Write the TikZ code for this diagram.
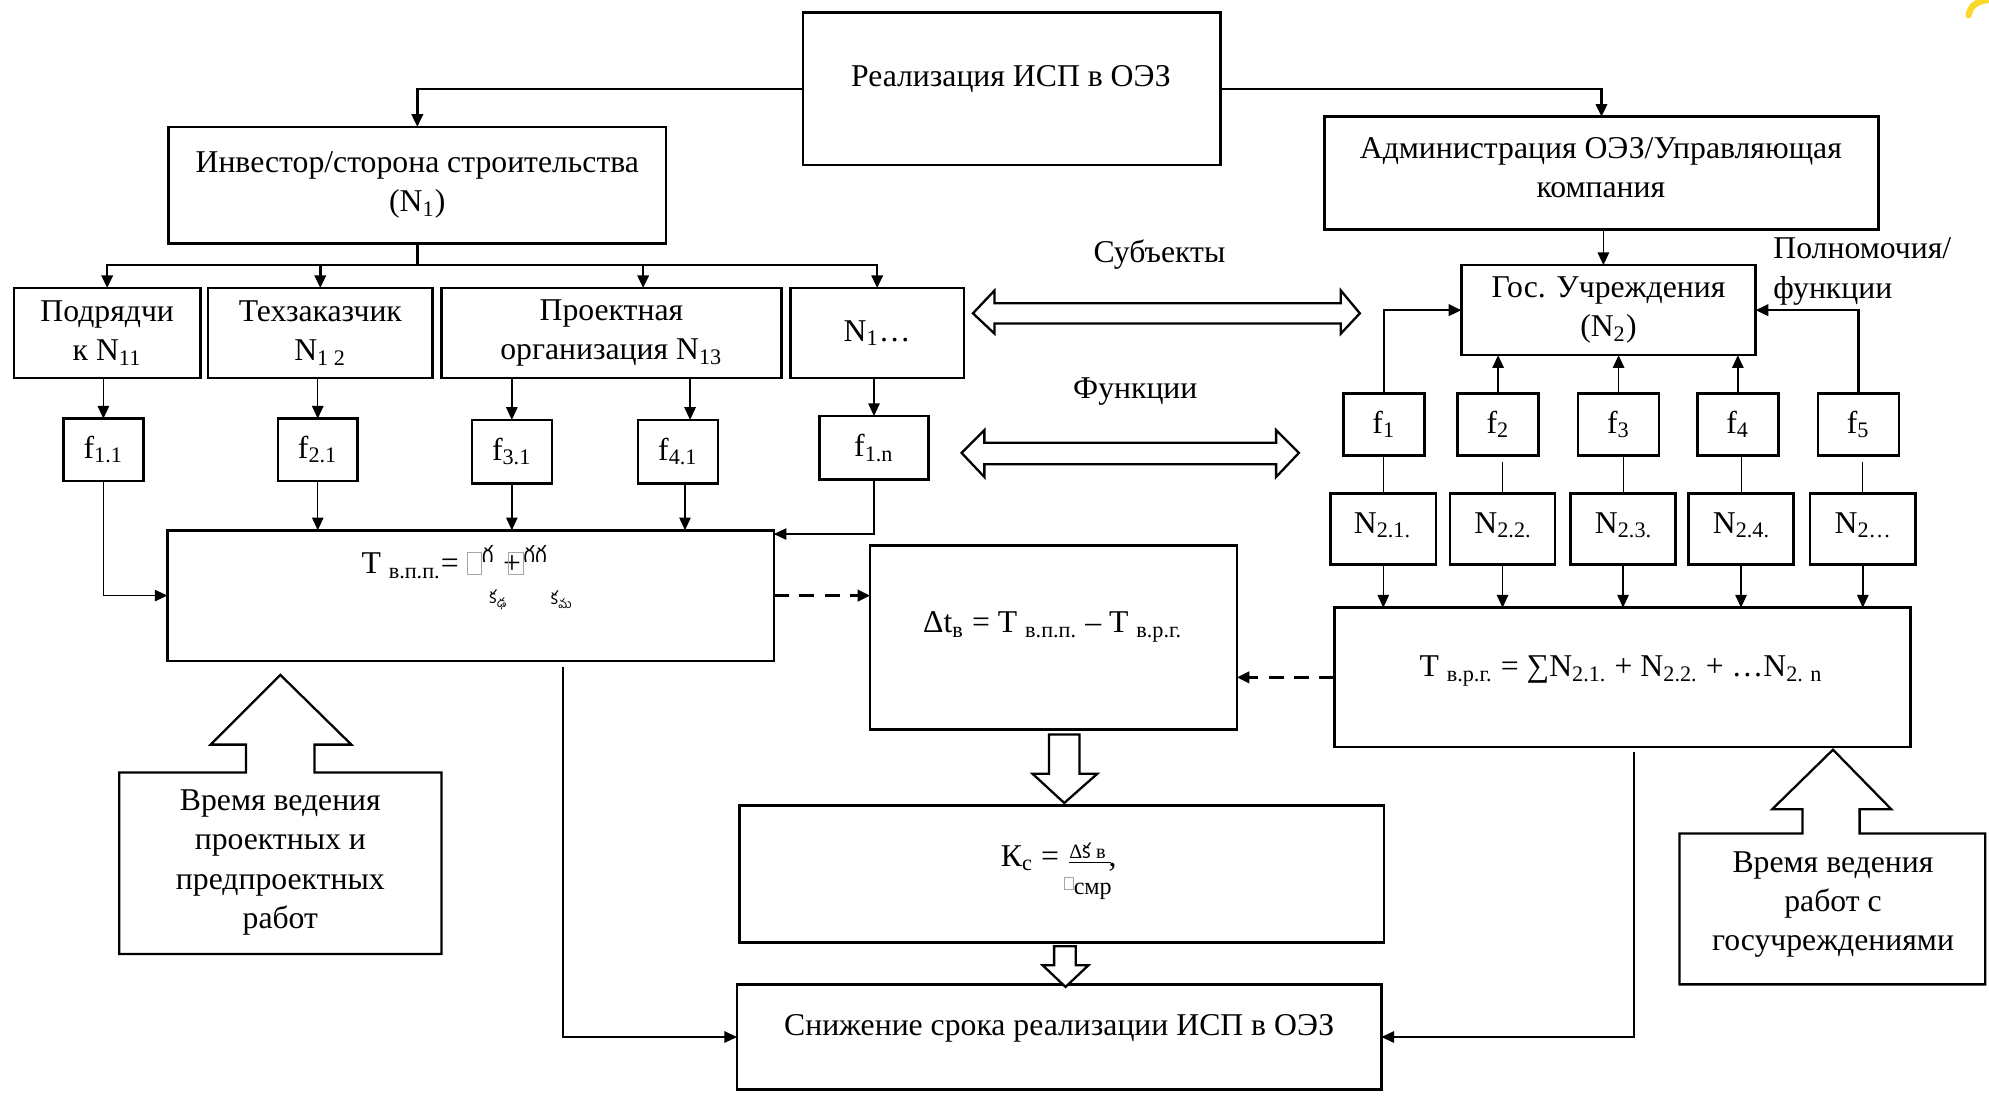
\documentclass[tikz,border=0pt]{standalone}
\usepackage{fontspec}
\setmainfont{Liberation Serif}
\newfontfamily\telfont[Script=Telugu]{Hind Guntur}
\usetikzlibrary{arrows.meta,calc}
\newcommand\nb{{\color{gray!70}\fboxsep=0pt\fboxrule=0.4pt\fbox{\rule{0pt}{0.66em}\hspace{0.42em}}}}
\newcommand\bx[7][]{\node[box,align=center,minimum width={(#5-#3)*0.5pt},minimum height={(#6-#4)*0.5pt},#1] (#2) at ({(#3+#5)/2},{(#4+#6)/2}) {#7};}
\begin{document}
\begin{tikzpicture}[x=0.5pt,y=-0.5pt,
  every node/.style={font=\fontsize{12.5}{15.5}\selectfont, inner sep=0pt, outer sep=0pt},
  box/.style={draw, line width=1pt, rectangle, inner sep=0pt},
  thick line/.style={line width=1pt},
  mid line/.style={line width=0.75pt},
  thin line/.style={line width=0.55pt},
  hair/.style={line width=0.4pt},
  dash line/.style={line width=1.2pt, dash pattern=on 6pt off 4pt},
  arr/.style={-{Triangle[length=5pt,width=4.5pt]}},
  hollow/.style={draw, line width=0.9pt, fill=white, line join=miter}
]
\useasboundingbox (0,0) rectangle (1568,864);
\fill[white] (0,0) rectangle (1568,864);

% ---------- boxes ----------
\bx{main}{633}{10}{962}{130}{}
\node (tmain) at (797,62) {Реализация ИСП в ОЭЗ};
\bx{inv}{133}{100}{525}{192}{Инвестор/сторона строительства\\(N\textsubscript{1})}
\bx{adm}{1044}{92}{1481}{181}{}
\node[align=center] (tadm) at (1262,132) {Администрация ОЭЗ/Управляющая\\компания};

\bx{podr}{11}{227}{158}{298}{Подрядчи\\к N\textsubscript{11}}
\bx{tech}{164}{227}{341}{298}{Техзаказчик\\N\textsubscript{1 2}}
\bx{proj}{348}{227}{616}{298}{Проектная\\организация N\textsubscript{13}}
\bx{none}{623}{227}{760}{298}{N\textsubscript{1}…}

\bx{fa}{50}{330}{113}{379}{f\textsubscript{1.1}}
\bx{fb}{219}{330}{282}{379}{f\textsubscript{2.1}}
\bx{fc}{372}{331}{435}{381}{f\textsubscript{3.1}}
\bx{fd}{503}{331}{566}{381}{f\textsubscript{4.1}}
\bx{fn}{646}{328}{732}{378}{f\textsubscript{1.n}}

\bx{tbox}{132}{418}{610}{521}{}
\node[anchor=west] (tf1) at (285,443) {T \textsubscript{в.п.п.}= \nb\textsuperscript{\telfont గ} +\hspace{-0.4em}\nb\textsuperscript{\telfont గగ}};
\node (tf2) at (393,473) {\telfont\fontsize{7}{8}\selectfont క\textsubscript{ఢ}};
\node (tf3) at (443,473) {\telfont\fontsize{7}{8}\selectfont క\textsubscript{మ}};

\bx{dt}{686}{430}{975}{575}{}
\node (tdt) at (830,494) {Δt\textsubscript{в} = T \textsubscript{в.п.п.} – T \textsubscript{в.р.г.}};

\bx{kc}{583}{635}{1091}{743}{}
\node[anchor=base west] (kc1) at (789,683) {К\textsubscript{с} =};
\node[anchor=base west, font=\fontsize{8}{9}\selectfont] (kc2) at (843,677) {\underline{Δ{\telfont క} в\ }};
\node[anchor=base west] (kc3) at (874,683) {,};
\node[anchor=base west] (kc4) at (839,701) {{\fontsize{7}{8}\selectfont\nb}{\fontsize{9.5}{10}\selectfont\raisebox{-2pt}{смр}}};

\bx{sn}{581}{776}{1089}{859}{}
\node (tsn) at (835,811) {Снижение срока реализации ИСП в ОЭЗ};

\bx{gos}{1152}{209}{1384}{280}{Гос. Учреждения\\(N\textsubscript{2})}
\bx{ga}{1059}{310}{1123}{359}{f\textsubscript{1}}
\bx{gb}{1149}{310}{1213}{359}{f\textsubscript{2}}
\bx{gc}{1244}{310}{1308}{359}{f\textsubscript{3}}
\bx{gd}{1338}{310}{1402}{359}{f\textsubscript{4}}
\bx{ge}{1433}{310}{1497}{359}{f\textsubscript{5}}

\bx{na}{1049}{389}{1132}{445}{}
\bx{nb}{1143}{389}{1226}{445}{}
\bx{nc}{1238}{389}{1321}{445}{}
\bx{nd}{1331}{389}{1414}{445}{}
\bx{ne}{1427}{389}{1510}{445}{}
\node (tna) at (1090,414) {N\textsubscript{2.1.}};
\node (tnb) at (1185,414) {N\textsubscript{2.2.}};
\node (tnc) at (1280,414) {N\textsubscript{2.3.}};
\node (tnd) at (1373,414) {N\textsubscript{2.4.}};
\node (tne) at (1469,414) {N\textsubscript{2…}};

\bx{tvrg}{1052}{479}{1506}{589}{}
\node (ttv) at (1278,529) {T \textsubscript{в.р.г.} = ∑N\textsubscript{2.1.} + N\textsubscript{2.2.} + …N\textsubscript{2. n}};

% ---------- labels ----------
\node (subj) at (914,201) {Субъекты};
\node (func) at (895,309) {Функции};
\node[anchor=west, align=left] (poln) at (1398,214) {Полномочия/\\функции};

% ---------- connectors (left) ----------
\draw[thick line, arr] (main.west) -| (inv.north);
\draw[thick line, arr] (main.east) -| (adm.north);
\coordinate (jt) at (329,209);
\coordinate (projin) at (507,227);
\draw[thick line] (inv.south) -- (jt);
\draw[thick line, arr] (jt) -| (podr.north);
\draw[thick line, arr] (jt) -| (tech.north);
\draw[thick line, arr] (jt) -| (projin);
\draw[thick line, arr] (jt) -| (none.north);

\coordinate (fdin) at (544,331);
\draw[thin line, arr] (podr.south -| fa.north) -- (fa.north);
\draw[thin line, arr] (tech.south -| fb.north) -- (fb.north);
\draw[thin line, arr] (proj.south -| fc.north) -- (fc.north);
\draw[thin line, arr] (proj.south -| fdin) -- (fdin);
\draw[thin line, arr] (none.south -| fn.north) -- (fn.north);

\coordinate (fdout) at (540,381);
\coordinate (tin) at (610,421);
\draw[thin line, arr] (fa.south) |- (tbox.west);
\draw[thin line, arr] (fb.south) -- (fb.south |- tbox.north);
\draw[thin line, arr] (fc.south) -- (fc.south |- tbox.north);
\draw[thin line, arr] (fdout) -- (fdout |- tbox.north);
\draw[thin line, arr] (fn.south) |- (tin);

\draw[dash line, arr] (tbox.east) -- (tbox.east -| dt.west);
\draw[dash line, arr] (tvrg.west) -- (tvrg.west -| dt.east);

\coordinate (tb) at (444,526);
\coordinate (tr) at (1288,593);
\draw[mid line, arr] (tb) |- (sn.west);
\draw[mid line, arr] (tr) |- (sn.east);

% ---------- connectors (right) ----------
\coordinate (admout) at (1264,181);
\draw[thin line, arr] (admout) -- (admout |- gos.north);
\draw[thick line, arr] (ga.north) |- (gos.west);
\draw[thin line, arr] (gb.north) -- (gb.north |- gos.south);
\draw[thin line, arr] (gc.north) -- (gc.north |- gos.south);
\draw[thin line, arr] (gd.north) -- (gd.north |- gos.south);
\draw[thick line, arr] (ge.north) |- (gos.east);

\draw[hair] (na.north |- ga.south) -- (na.north);
\draw[hair, shorten <=2.5pt] (nb.north |- gb.south) -- (nb.north);
\draw[hair] (nc.north |- gc.south) -- (nc.north);
\draw[hair] (nd.north |- gd.south) -- (nd.north);
\draw[hair, shorten <=2.5pt] (ne.north |- ge.south) -- (ne.north);

\draw[thin line, arr] (na.south) -- (na.south |- tvrg.north);
\draw[thin line, arr] (nb.south) -- (nb.south |- tvrg.north);
\draw[thin line, arr] (nc.south) -- (nc.south |- tvrg.north);
\draw[thin line, arr] (nd.south) -- (nd.south |- tvrg.north);
\draw[thin line, arr] (ne.south) -- (ne.south |- tvrg.north);

% ---------- block arrows ----------
\draw[hollow] (827,579) -- (851,579) -- (851,610) -- (865,610) -- (839,633) -- (814,610) -- (827,610) -- cycle;
\draw[hollow] (831,746) -- (848,746) -- (848,761) -- (858,761) -- (840,778) -- (822,761) -- (831,761) -- cycle;

\draw[hollow] (767,247) -- (784,229) -- (784,239) -- (1057,239) -- (1057,229) -- (1072,247) -- (1057,263) -- (1057,255) -- (784,255) -- (784,263) -- cycle;
\draw[hollow] (758,357) -- (776,339) -- (776,349) -- (1006,349) -- (1006,339) -- (1024,357) -- (1006,376) -- (1006,366) -- (776,366) -- (776,376) -- cycle;

\draw[hollow] (94,752) -- (94,609) -- (194,609) -- (194,587) -- (166,587) -- (221,532) -- (277,587) -- (248,587) -- (248,609) -- (348,609) -- (348,752) -- cycle;
\node[align=center] (vl) at (221,680) {Время ведения\\проектных и\\предпроектных\\работ};
\draw[hollow] (1324,776) -- (1324,657) -- (1421,657) -- (1421,638) -- (1397,638) -- (1445,591) -- (1491,638) -- (1466,638) -- (1466,657) -- (1565,657) -- (1565,776) -- cycle;
\node[align=center] (vr) at (1445,713) {Время ведения\\работ с\\госучреждениями};

% yellow fragment at the corner
\draw[line width=2.5pt, color={rgb,255:red,250;green,215;blue,40}, line cap=round] (1552,12) .. controls (1553,5) and (1558,1) .. (1567,0);
\end{tikzpicture}
\end{document}
